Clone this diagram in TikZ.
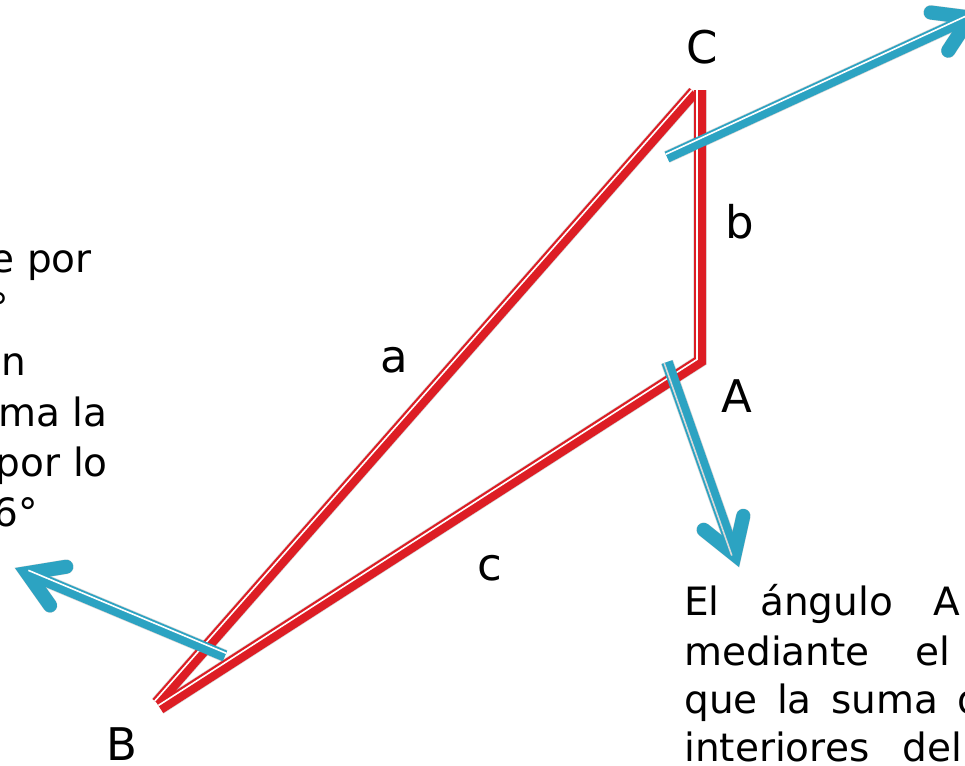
\documentclass[tikz,border=0pt]{standalone}
\usepackage{fontspec}
\setmainfont{DejaVu Sans}
\usetikzlibrary{calc}
\definecolor{trired}{RGB}{221,29,36}
\definecolor{arrblue}{RGB}{44,163,194}
\tikzset{
  redline/.style={draw=trired, line width=9pt, line join=miter},
  redshadow/.style={draw=black, opacity=0.16, line width=10pt, line join=miter},
  whiteline/.style={draw=white, line width=1.2pt},
  blueline/.style={draw=arrblue, line width=8.5pt},
  blueshadow/.style={draw=black, opacity=0.16, line width=9.5pt},
  bluehead/.style={draw=arrblue, line width=10.5pt, line cap=round, line join=miter},
  headshadow/.style={draw=black, opacity=0.16, line width=11pt, line cap=round, line join=miter},
  lbl/.style={inner sep=0pt, anchor=base, font=\fontsize{33.75pt}{40pt}\selectfont},
  bodyR/.style={inner sep=0pt, anchor=base east, font=\fontsize{29.25pt}{36pt}\selectfont},
  bodyL/.style={inner sep=0pt, anchor=base west, font=\fontsize{29.25pt}{36pt}\selectfont}
}
\begin{document}
\begin{tikzpicture}[x=0.75pt,y=-0.75pt]
\useasboundingbox (0,0) rectangle (965,765);
\clip (0,0) rectangle (965,765);

% triangle points
\coordinate (Ctop) at (700,90);
\coordinate (Apt) at (700,361);
\coordinate (Bc) at (160,708);
\coordinate (Capex) at (694,92);
\coordinate (Ba) at (157,703);

% arrows: start S, visual tip T, path tip P
\coordinate (S1) at (667,157);
\coordinate (T1) at (982,12);
\coordinate (S2) at (667,362);
\coordinate (T2) at (739,567);
\coordinate (S3) at (225,656);
\coordinate (T3) at (15,568);
\coordinate (P1) at ($(T1)!9.9pt!(S1)$);
\coordinate (P2) at ($(T2)!9.9pt!(S2)$);
\coordinate (P3) at ($(T3)!9.9pt!(S3)$);
\coordinate (L1) at ($(P1)!29.7pt!32:(S1)$);
\coordinate (R1) at ($(P1)!29.7pt!-32:(S1)$);
\coordinate (L2) at ($(P2)!29.7pt!32:(S2)$);
\coordinate (R2) at ($(P2)!29.7pt!-32:(S2)$);
\coordinate (L3) at ($(P3)!29.7pt!32:(S3)$);
\coordinate (R3) at ($(P3)!29.7pt!-32:(S3)$);

% shadows
\begin{scope}[shift={(2.5,3.5)}]
  \draw[redshadow] (Ctop) -- (Apt) -- (Bc);
  \draw[redshadow] (Capex) -- (Ba);
  \draw[blueshadow] (S1) -- (P1);
  \draw[blueshadow] (S2) -- (P2);
  \draw[blueshadow] (S3) -- (P3);
  \draw[headshadow] (L1) -- (P1) -- (R1);
  \draw[headshadow] (L2) -- (P2) -- (R2);
  \draw[headshadow] (L3) -- (P3) -- (R3);
\end{scope}

% red triangle
\draw[redline] (Ctop) -- (Apt) -- (Bc);
\draw[redline] (Capex) -- (Ba);
\draw[whiteline] ($(Ctop)+(-3,0)$) -- (697,359.4) -- ($(Bc)!2.25pt!90:(Apt)$);
\draw[whiteline] ($(Capex)!2.25pt!-90:(Ba)$) -- ($(Ba)!2.25pt!90:(Capex)$);

% blue arrows
\draw[blueline] (S1) -- (P1);
\draw[bluehead] (L1) -- (P1) -- (R1);
\draw[whiteline] ($(S1)!2.25pt!90:(P1)$) -- ($(P1)!2.25pt!-90:(S1)$);

\draw[blueline] (S2) -- (P2);
\draw[bluehead] (L2) -- (P2) -- (R2);
\draw[whiteline, draw=white!85!black] ($(S2)!2.25pt!-90:(P2)$) -- ($(P2)!2.25pt!90:(S2)$);

\draw[blueline] (S3) -- (P3);
\draw[bluehead] (L3) -- (P3) -- (R3);
\draw[whiteline] ($(S3)!2.25pt!-90:(P3)$) -- ($(P3)!2.25pt!90:(S3)$);

% vertex and side labels
\node[lbl] (labC) at (702,63) {C};
\node[lbl] (labb) at (740,238) {b};
\node[lbl] (laba) at (394,372) {a};
\node[lbl] (labA) at (737,412) {A};
\node[lbl] (labc) at (490,580) {c};
\node[lbl] (labB) at (122,760) {B};

% left text (cut by the edge)
\node[bodyR] (t1) at (92,272) {e por};
\node[bodyR] (t2) at (9,321) {°};
\node[bodyR] (t3) at (26,375) {n};
\node[bodyR] (t4) at (108,426) {ma la};
\node[bodyR] (t5) at (108,476) {por lo};
\node[bodyR] (t6) at (38,526) {6°};

% right text (cut by the edge)
\node[bodyL] (r1) at (684,615) {\makebox[207pt][s]{El ángulo A}};
\node[bodyL] (r2) at (684,665) {\makebox[199.5pt][s]{mediante el}};
\node[bodyL] (r3) at (684,713) {\makebox[223.5pt][s]{que la suma d}};
\node[bodyL] (r4) at (684,761) {\makebox[208.5pt][s]{interiores del}};
\end{tikzpicture}
\end{document}
